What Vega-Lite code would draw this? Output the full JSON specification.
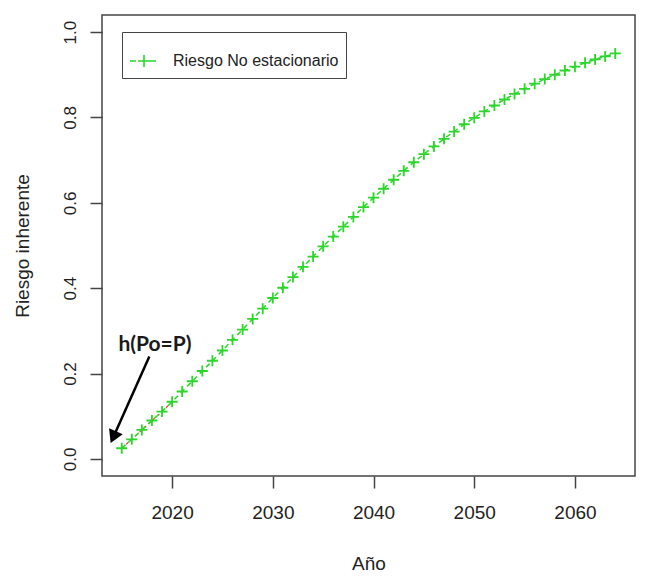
{
  "$schema": "https://vega.github.io/schema/vega-lite/v6.json",
  "width": 533,
  "height": 461,
  "autosize": {"type": "none"},
  "padding": {"left": 102, "top": 15, "right": 10, "bottom": 103},
  "background": "white",
  "config": {
    "view": {"stroke": "#444444", "strokeWidth": 1.5},
    "axis": {
      "grid": false,
      "domain": false,
      "tickColor": "#444444",
      "tickWidth": 1.5,
      "tickSize": 12,
      "labelColor": "#222222",
      "titleColor": "#222222",
      "labelFont": "Liberation Sans",
      "titleFont": "Liberation Sans",
      "titleFontWeight": "normal"
    }
  },
  "datasets": {
    "riesgo": [
      {"year": 2015, "value": 0.025, "serie": "Riesgo No estacionario"},
      {"year": 2016, "value": 0.046, "serie": "Riesgo No estacionario"},
      {"year": 2017, "value": 0.068, "serie": "Riesgo No estacionario"},
      {"year": 2018, "value": 0.090, "serie": "Riesgo No estacionario"},
      {"year": 2019, "value": 0.111, "serie": "Riesgo No estacionario"},
      {"year": 2020, "value": 0.134, "serie": "Riesgo No estacionario"},
      {"year": 2021, "value": 0.158, "serie": "Riesgo No estacionario"},
      {"year": 2022, "value": 0.182, "serie": "Riesgo No estacionario"},
      {"year": 2023, "value": 0.206, "serie": "Riesgo No estacionario"},
      {"year": 2024, "value": 0.230, "serie": "Riesgo No estacionario"},
      {"year": 2025, "value": 0.254, "serie": "Riesgo No estacionario"},
      {"year": 2026, "value": 0.279, "serie": "Riesgo No estacionario"},
      {"year": 2027, "value": 0.303, "serie": "Riesgo No estacionario"},
      {"year": 2028, "value": 0.328, "serie": "Riesgo No estacionario"},
      {"year": 2029, "value": 0.352, "serie": "Riesgo No estacionario"},
      {"year": 2030, "value": 0.377, "serie": "Riesgo No estacionario"},
      {"year": 2031, "value": 0.401, "serie": "Riesgo No estacionario"},
      {"year": 2032, "value": 0.426, "serie": "Riesgo No estacionario"},
      {"year": 2033, "value": 0.450, "serie": "Riesgo No estacionario"},
      {"year": 2034, "value": 0.474, "serie": "Riesgo No estacionario"},
      {"year": 2035, "value": 0.498, "serie": "Riesgo No estacionario"},
      {"year": 2036, "value": 0.521, "serie": "Riesgo No estacionario"},
      {"year": 2037, "value": 0.544, "serie": "Riesgo No estacionario"},
      {"year": 2038, "value": 0.567, "serie": "Riesgo No estacionario"},
      {"year": 2039, "value": 0.590, "serie": "Riesgo No estacionario"},
      {"year": 2040, "value": 0.612, "serie": "Riesgo No estacionario"},
      {"year": 2041, "value": 0.633, "serie": "Riesgo No estacionario"},
      {"year": 2042, "value": 0.654, "serie": "Riesgo No estacionario"},
      {"year": 2043, "value": 0.675, "serie": "Riesgo No estacionario"},
      {"year": 2044, "value": 0.695, "serie": "Riesgo No estacionario"},
      {"year": 2045, "value": 0.714, "serie": "Riesgo No estacionario"},
      {"year": 2046, "value": 0.732, "serie": "Riesgo No estacionario"},
      {"year": 2047, "value": 0.750, "serie": "Riesgo No estacionario"},
      {"year": 2048, "value": 0.767, "serie": "Riesgo No estacionario"},
      {"year": 2049, "value": 0.784, "serie": "Riesgo No estacionario"},
      {"year": 2050, "value": 0.799, "serie": "Riesgo No estacionario"},
      {"year": 2051, "value": 0.814, "serie": "Riesgo No estacionario"},
      {"year": 2052, "value": 0.828, "serie": "Riesgo No estacionario"},
      {"year": 2053, "value": 0.842, "serie": "Riesgo No estacionario"},
      {"year": 2054, "value": 0.855, "serie": "Riesgo No estacionario"},
      {"year": 2055, "value": 0.867, "serie": "Riesgo No estacionario"},
      {"year": 2056, "value": 0.879, "serie": "Riesgo No estacionario"},
      {"year": 2057, "value": 0.890, "serie": "Riesgo No estacionario"},
      {"year": 2058, "value": 0.900, "serie": "Riesgo No estacionario"},
      {"year": 2059, "value": 0.910, "serie": "Riesgo No estacionario"},
      {"year": 2060, "value": 0.919, "serie": "Riesgo No estacionario"},
      {"year": 2061, "value": 0.928, "serie": "Riesgo No estacionario"},
      {"year": 2062, "value": 0.936, "serie": "Riesgo No estacionario"},
      {"year": 2063, "value": 0.943, "serie": "Riesgo No estacionario"},
      {"year": 2064, "value": 0.950, "serie": "Riesgo No estacionario"}
    ],
    "anotacion": [{"year": 2018.3, "value": 0.267, "label": "h(Po=P)"}],
    "flecha": [{"year": 2017.74, "value": 0.240, "year2": 2014.16, "value2": 0.051}]
  },
  "encoding": {
    "x": {
      "field": "year",
      "type": "quantitative",
      "scale": {"domain": [2013.04, 2065.96], "nice": false, "zero": false},
      "axis": {
        "values": [2020, 2030, 2040, 2050, 2060],
        "format": "d",
        "labelFontSize": 19,
        "labelPadding": 15,
        "title": "Año",
        "titleFontSize": 19,
        "titlePadding": 32
      }
    },
    "y": {
      "field": "value",
      "type": "quantitative",
      "scale": {"domain": [-0.04, 1.04], "nice": false, "zero": false},
      "axis": {
        "values": [0, 0.2, 0.4, 0.6, 0.8, 1.0],
        "format": ".1f",
        "labelAngle": 270,
        "labelAlign": "center",
        "labelBaseline": "alphabetic",
        "labelFontSize": 17,
        "labelPadding": 15,
        "title": "Riesgo inherente",
        "titleFontSize": 19,
        "titlePadding": 29
      }
    }
  },
  "layer": [
    {
      "data": {"name": "riesgo"},
      "transform": [{"filter": "datum.year <= 2020"}],
      "mark": {"type": "line", "color": "#e8412e", "strokeWidth": 1.2, "strokeDash": [3, 3]}
    },
    {
      "data": {"name": "riesgo"},
      "mark": {"type": "line", "color": "#2ad62a", "strokeWidth": 1.5, "strokeDash": [5, 4]}
    },
    {
      "data": {"name": "riesgo"},
      "mark": {"type": "point", "shape": "M-1,0L1,0M0,-1L0,1", "filled": false, "size": 121, "strokeWidth": 1.8, "opacity": 1},
      "encoding": {
        "color": {
          "field": "serie",
          "type": "nominal",
          "scale": {"domain": ["Riesgo No estacionario"], "range": ["#2ad62a"]},
          "legend": {
            "title": null,
            "orient": "none",
            "legendX": 20,
            "legendY": 17,
            "padding": 7,
            "strokeColor": "#444444",
            "fillColor": "white",
            "symbolType": "M-1,0L-0.714,0M-0.619,0L0.238,0M-0.333,-0.286L-0.333,0.286",
            "symbolSize": 1764,
            "symbolStrokeWidth": 1.6,
            "symbolStrokeColor": "#2ad62a",
            "symbolFillColor": "transparent",
            "labelOffset": 0,
            "labelFont": "Liberation Sans",
            "labelFontSize": 16,
            "labelColor": "#222222",
            "labelLimit": 400
          }
        }
      }
    },
    {
      "data": {"name": "flecha"},
      "mark": {"type": "rule", "color": "black", "strokeWidth": 2.5},
      "encoding": {
        "x2": {"field": "year2"},
        "y2": {"field": "value2"}
      }
    },
    {
      "data": {"name": "flecha"},
      "mark": {"type": "point", "shape": "triangle-up", "filled": true, "color": "black", "size": 225, "angle": 204, "opacity": 1},
      "encoding": {
        "x": {"field": "year2", "type": "quantitative"},
        "y": {"field": "value2", "type": "quantitative"}
      }
    },
    {
      "data": {"name": "anotacion"},
      "mark": {"type": "text", "font": "Lato", "fontWeight": "bold", "fontSize": 21, "color": "#1a1a1a"},
      "encoding": {
        "text": {"field": "label"}
      }
    }
  ]
}
